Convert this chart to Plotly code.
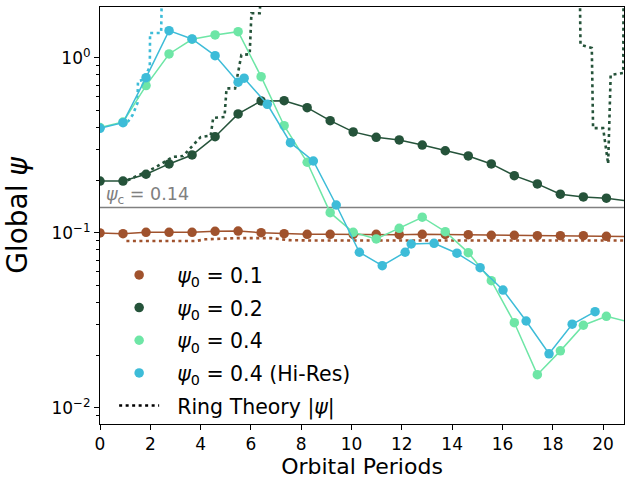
import plotly.graph_objects as go
import numpy as np

# ---------------- data ----------------
dt = 0.915
t_std = [round(k * dt, 3) for k in range(24)]

psi_01 = [0.100, 0.0991, 0.1009, 0.1009, 0.1009, 0.1022, 0.1026, 0.1004, 0.0991, 0.0983,
          0.0983, 0.0980, 0.0983, 0.0978, 0.0983, 0.0980, 0.0978, 0.0970, 0.0970, 0.0965,
          0.0965, 0.0965, 0.0957, 0.0955]
psi_02 = [0.198, 0.198, 0.2165, 0.248, 0.279, 0.355, 0.479, 0.568, 0.570, 0.520,
          0.438, 0.378, 0.352, 0.340, 0.318, 0.295, 0.2755, 0.248, 0.2126, 0.1906,
          0.1665, 0.1606, 0.158, 0.152]
psi_04 = [0.40, 0.43, 0.695, 1.054, 1.279, 1.353, 1.413, 0.782, 0.41, 0.2536,
          0.1306, 0.1009, 0.0924, 0.1063, 0.123, 0.1017, 0.0772, 0.0534, 0.0307, 0.0155,
          0.0212, 0.0297, 0.0334, 0.031]

t_hires = [0, 0.915, 1.83, 2.745, 3.66, 4.575, 5.49, 5.73, 6.65, 7.57, 8.48, 9.39,
           10.31, 11.22, 12.13, 12.37, 13.28, 14.19, 15.11, 16.02, 16.94, 17.85, 18.77, 19.68]
psi_04_hires = [0.3965, 0.4269, 0.7717, 1.432, 1.284, 1.031, 0.727, 0.766, 0.5437, 0.328,
                0.2578, 0.1445, 0.0776, 0.065, 0.0776, 0.0865, 0.0873, 0.0766, 0.0633, 0.0472,
                0.0314, 0.0204, 0.0301, 0.0355]

# ring theory |psi|
theory_t_01 = [1.05, 3.8, 4.2, 5.5, 6.8, 7.5, 8.5, 21.0]
theory_01 = [0.090, 0.090, 0.092, 0.0935, 0.0935, 0.091, 0.0905, 0.0905]

theory_t_02 = [1.1, 1.5, 2.15, 2.9, 3.3, 4.0, 4.4, 4.5, 4.95, 5.03, 5.37, 5.62, 5.95, 6.02,
               6.35, 6.5, 19.05, 19.1, 19.55, 19.6, 20.0, 20.2, 20.3, 20.8, 20.82]
theory_02 = [0.20, 0.212, 0.235, 0.272, 0.275, 0.353, 0.36, 0.455, 0.46, 0.67, 0.67, 1.04,
             1.05, 1.8, 1.8, 5.0, 5.0, 1.19, 1.14, 0.397, 0.397, 0.248, 0.8, 0.82, 5.0]

theory_t_04 = [1.1, 1.3, 1.49, 1.51, 1.71, 1.98, 1.99, 2.43, 2.5]
theory_04 = [0.43, 0.473, 0.553, 0.738, 0.749, 0.888, 1.39, 1.39, 5.0]

psi_c = 0.14
x_range = [0, 20.83]
y_range = [0.0081, 1.955]

PAD = "\u00a0\u00a0"
labels = ["<i>ψ</i><sub>0</sub> = 0.1", "<i>ψ</i><sub>0</sub> = 0.2",
          "<i>ψ</i><sub>0</sub> = 0.4", "<i>ψ</i><sub>0</sub> = 0.4 (Hi-Res)"]
theory_label = "Ring Theory |<i>ψ</i>|"

c_brown = "#a0522d"
c_dark = "#25533a"
c_light = "#6ee6a6"
c_cyan = "#3dbcd8"

FONT = "DejaVu Sans"
fig = go.Figure()

# critical line
fig.add_trace(go.Scatter(x=x_range, y=[psi_c, psi_c], mode="lines",
                         line=dict(color="#808080", width=1.5), showlegend=False, hoverinfo="skip"))

# theory dotted
for tt, vv, col in [(theory_t_01, theory_01, c_brown), (theory_t_02, theory_02, c_dark),
                    (theory_t_04, theory_04, c_cyan)]:
    fig.add_trace(go.Scatter(x=tt, y=vv, mode="lines",
                             line=dict(color=col, width=2.6, dash="3px,3.5px"),
                             showlegend=False))

# data series
for tt, vv, col in [(t_std, psi_01, c_brown), (t_std, psi_02, c_dark),
                    (t_std, psi_04, c_light), (t_hires, psi_04_hires, c_cyan)]:
    fig.add_trace(go.Scatter(x=tt, y=vv, mode="lines+markers",
                             line=dict(color=col, width=1.5),
                             marker=dict(color=col, size=9.5),
                             showlegend=False))

# legend entries
for i, (lab, col) in enumerate(zip(labels, [c_brown, c_dark, c_light, c_cyan])):
    fig.add_trace(go.Scatter(x=[None], y=[None], mode="markers", name=PAD + lab,
                             marker=dict(color=col, size=9.5), legendgroup=f"g{i}"))
fig.add_trace(go.Scatter(x=[None], y=[None], mode="lines", name=PAD + theory_label,
                         line=dict(color="black", width=2.6, dash="3px,3.5px"), legendgroup="g4"))

fig.add_annotation(x=0.15, y=np.log10(psi_c), xref="x", yref="y", xanchor="left",
                   yanchor="bottom", yshift=-2, showarrow=False,
                   text="<i>ψ</i><sub>c</sub> = 0.14",
                   font=dict(family=FONT, size=17.5, color="#808080"))

minor_vals = [m * 10.0 ** e for e in (-3, -2, -1, 0) for m in range(2, 10)]

fig.update_layout(
    width=626, height=483,
    margin=dict(l=100, r=2, t=7, b=59),
    plot_bgcolor="white", paper_bgcolor="white",
    font=dict(family=FONT, size=17, color="black"),
    legend=dict(x=0.027, y=0.405, xanchor="left", yanchor="top",
                bgcolor="rgba(0,0,0,0)", borderwidth=0, tracegroupgap=3,
                itemwidth=40, font=dict(size=20.5, family=FONT)),
    xaxis=dict(range=x_range, tickvals=list(range(0, 21, 2)), showline=True, mirror=True,
               linecolor="black", linewidth=1.1, ticks="outside", ticklen=5, tickwidth=1.1,
               tickcolor="black", showgrid=False, zeroline=False, automargin=False,
               tickfont=dict(size=17, family=FONT),
               title=dict(text="Orbital Periods", font=dict(size=22, family=FONT), standoff=3)),
    yaxis=dict(type="log", range=[np.log10(y_range[0]), np.log10(y_range[1])],
               tickvals=[0.01, 0.1, 1],
               ticktext=["10<sup>−2</sup>", "10<sup>−1</sup>", "10<sup>0</sup>"],
               showline=True, mirror=True, linecolor="black", linewidth=1.1,
               ticks="outside", ticklen=5, tickwidth=1.1, tickcolor="black",
               showgrid=False, zeroline=False, automargin=False,
               minor=dict(tickvals=minor_vals, ticklen=2.8, tickwidth=0.8, tickcolor="black",
                          ticks="outside", showgrid=False),
               tickfont=dict(size=17, family=FONT),
               title=dict(text="Global <i>ψ</i>", font=dict(size=28, family=FONT))),
)

fig.write_html("out.html", config={"displayModeBar": False},
               post_script="document.body.style.margin='0px';")
